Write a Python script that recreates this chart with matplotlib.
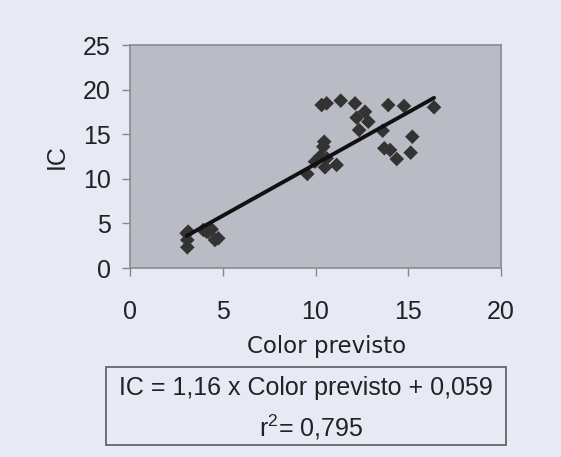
import matplotlib
matplotlib.use("Agg")
import matplotlib.pyplot as plt
from matplotlib.patches import Rectangle
import numpy as np

# Predicted colour vs. measured IC
color_previsto = [10.33, 10.60, 11.36, 12.13, 12.67, 12.22, 12.85, 12.35, 13.92, 14.77,
                  16.39, 13.62, 15.22, 13.71, 14.02, 14.38, 15.13, 10.47, 10.42, 10.24,
                  10.60, 10.51, 11.14, 9.56, 9.97,
                  3.14, 3.09, 3.09, 3.05, 3.95, 4.22, 4.40, 4.76, 4.58, 4.13]
ic_values = [18.27, 18.46, 18.76, 18.46, 17.52, 16.85, 16.40, 15.47, 18.27, 18.16,
             18.02, 15.39, 14.72, 13.42, 13.23, 12.22, 12.93, 14.16, 13.60, 12.48,
             12.30, 11.29, 11.55, 10.54, 11.92,
             4.07, 3.14, 2.32, 3.89, 4.26, 4.07, 4.34, 3.33, 3.14, 4.07]

slope = 1.16
intercept = 0.059
r2_text = "0,795"

x_ticks = [0, 5, 10, 15, 20]
y_ticks = [0, 5, 10, 15, 20, 25]

plt.rcParams["mathtext.fontset"] = "custom"
plt.rcParams["mathtext.rm"] = "Liberation Sans"
plt.rcParams["mathtext.default"] = "regular"

bg = "#e7eaf4"
plot_bg = "#b9bbc5"
ink = "#222222"
sans = ["Liberation Sans", "DejaVu Sans"]
fs = 18

fig = plt.figure(figsize=(5.61, 4.57), dpi=100, facecolor=bg)
ax = fig.add_axes([130 / 561, 1 - 268 / 457, 371 / 561, 223 / 457])
ax.set_facecolor(plot_bg)

ax.scatter(color_previsto, ic_values, marker="D", s=55, color="#333333",
           edgecolors="none", zorder=3)

xs = np.sort(np.array(color_previsto))
ax.plot(xs, slope * xs + intercept, color="#111111", lw=2.8, zorder=4,
        solid_capstyle="round")

ax.set_xlim(0, 20)
ax.set_ylim(0, 25)
ax.set_xticks(x_ticks)
ax.set_yticks(y_ticks)
ax.set_xticklabels([str(t) for t in x_ticks], family=sans, fontsize=fs, color=ink)
ax.set_yticklabels([str(t) for t in y_ticks], family=sans, fontsize=fs, color=ink)
ax.tick_params(direction="out", length=6, width=1, color="#888888")
ax.tick_params(axis="x", pad=17)
ax.tick_params(axis="y", pad=8)
for s in ax.spines.values():
    s.set_color("#8a8a92")
    s.set_linewidth(1.2)

ax.set_ylabel("IC", family=sans, fontsize=fs, color=ink, labelpad=10)
ax.set_xlabel("Color previsto", family=["DejaVu Sans"], fontsize=16.5, color=ink,
              labelpad=4)
ax.xaxis.set_label_coords(0.53, -0.30)

# Regression equation box
fig.add_artist(Rectangle((106 / 561, 1 - 445 / 457), 400 / 561, 78 / 457,
                         transform=fig.transFigure, facecolor=bg,
                         edgecolor="#666666", lw=1.3))
fig.text(306 / 561, 1 - 388 / 457,
         f"IC = {slope:.2f} x Color previsto + {intercept:.3f}".replace(".", ","),
         ha="center", va="center", family=sans, fontsize=fs, color=ink)
fig.text(311 / 561, 1 - 427 / 457, "r$^{2}$= " + r2_text,
         ha="center", va="center", family=sans, fontsize=fs, color=ink)

fig.savefig("out.png", dpi=100, facecolor=bg)
